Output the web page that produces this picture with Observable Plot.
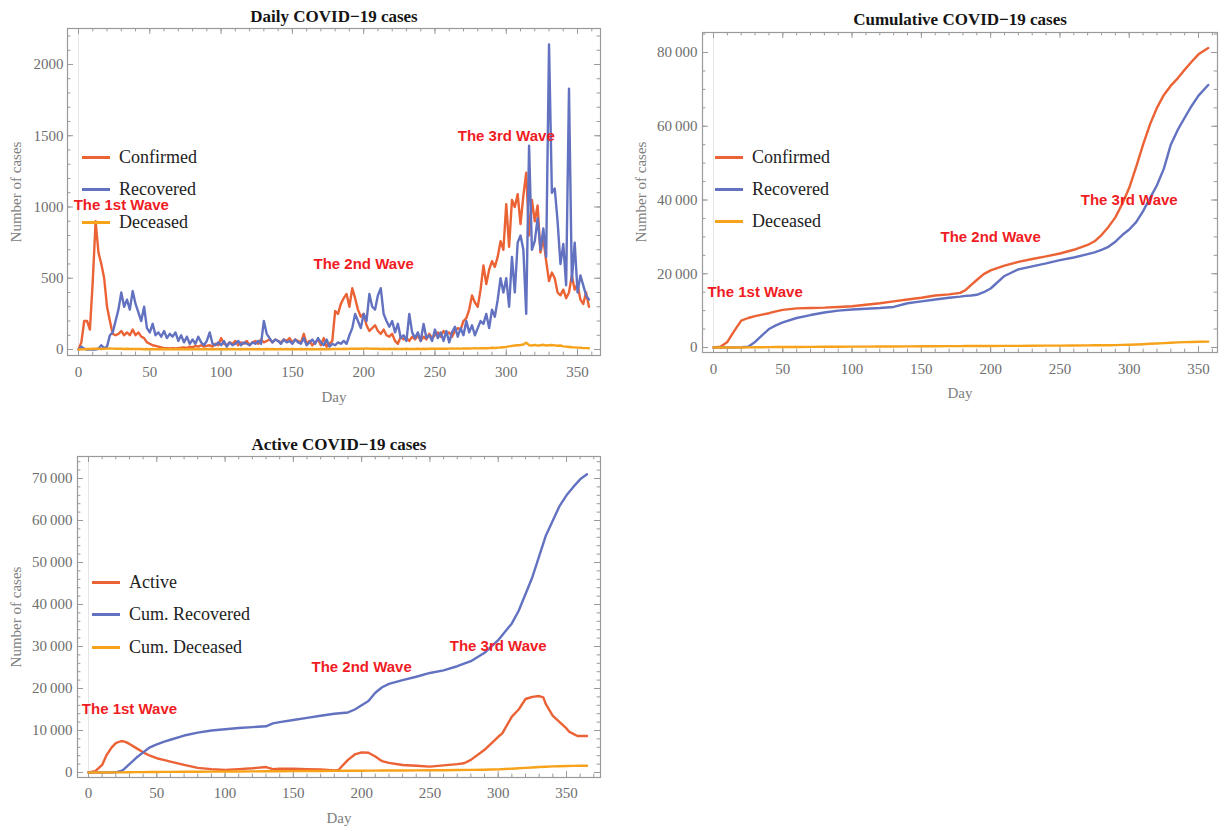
<!DOCTYPE html>
<html><head><meta charset="utf-8">
<script src="https://cdn.jsdelivr.net/npm/d3@7"></script>
<script src="https://cdn.jsdelivr.net/npm/@observablehq/plot@0.6"></script>
<style>
body{margin:0;background:#fff;}
#root{position:relative;width:1227px;height:828px;overflow:hidden;font-family:"Liberation Serif","Times New Roman",serif;}
.panel{position:absolute;}
.title{position:absolute;font-weight:bold;font-size:17px;color:#151515;transform:translate(-50%,-50%);white-space:nowrap;}
.ylab{position:absolute;font-size:15px;color:#808080;transform:translate(-50%,-50%) rotate(-90deg);white-space:nowrap;}
.xlab{position:absolute;font-size:15px;color:#808080;transform:translate(-50%,-50%);white-space:nowrap;}
.leg{position:absolute;font-size:18px;line-height:18px;color:#222;white-space:nowrap;display:flex;align-items:center;transform:translateY(-50%);}
.leg .sw{display:inline-block;width:28px;height:3px;margin-right:9px;}
</style>
</head><body><div id="root"></div>
<script>
// ---------- DATA ----------
const colors = {confirmed: "#eb6235", recovered: "#6272c0", deceased: "#f7a21b"};

// Daily panel: one value every 2 days, days 0..358
const dailyDays = d3.range(0, 360, 2);
const dailyConfirmed = [
  0, 50, 200, 200, 140, 480, 900, 680, 600, 500,
  300, 200, 110, 100, 110, 130, 100, 120, 100, 140,
  100, 120, 90, 80, 50, 40, 30, 25, 20, 15,
  10, 10, 8, 10, 8, 10, 12, 15, 10, 20,
  15, 25, 20, 30, 20, 25, 30, 20, 40, 30,
  80, 40, 30, 50, 40, 60, 30, 50, 40, 60,
  30, 50, 60, 40, 70, 50, 60, 70, 50, 70,
  60, 50, 70, 60, 80, 50, 70, 60, 50, 110,
  40, 60, 30, 50, 70, 30, 80, 20, 40, 60,
  270, 250, 320, 360, 390, 300, 430, 360, 280, 230,
  250, 170, 130, 150, 170, 130, 110, 140, 100, 90,
  110, 60, 40, 90, 70, 80, 60, 90, 70, 100,
  60, 90, 70, 110, 80, 100, 120, 90, 130, 110,
  120, 90, 130, 150, 140, 200, 220, 280, 380, 330,
  300, 420, 590, 460, 560, 620, 580, 650, 760, 700,
  1020, 720, 1050, 1000, 1090, 880, 1080, 1240, 800, 1050,
  900, 1010, 680, 780, 620, 480, 540, 500, 400, 380,
  420, 360, 400, 520, 420, 460, 350, 320, 400, 300
];
const dailyRecovered = [
  0, 20, 5, 0, 0, 0, 0, 5, 30, 10,
  20, 100, 120, 200, 280, 400, 300, 350, 280, 410,
  320, 260, 200, 300, 150, 120, 180, 100, 120, 90,
  130, 80, 110, 90, 120, 60, 100, 50, 90, 40,
  70, 40, 90, 50, 30, 60, 120, 40, 30, 50,
  30, 60, 20, 50, 30, 40, 60, 30, 50, 40,
  30, 50, 40, 60, 40, 200, 110, 80, 50, 70,
  60, 40, 70, 50, 60, 40, 70, 50, 40, 80,
  30, 50, 70, 40, 80, 50, 30, 70, 20, 40,
  30, 50, 40, 60, 40, 100, 150, 250, 200, 150,
  250, 200, 390, 300, 280, 380, 430, 250, 200, 160,
  200, 120, 180, 80, 100, 60, 250, 120, 80, 120,
  60, 180, 80, 100, 60, 140, 80, 120, 60, 130,
  50, 120, 160, 90, 150, 100, 200, 120, 170, 100,
  150, 200, 180, 250, 150, 280, 230, 350, 500, 400,
  500, 300, 650, 400, 750, 800, 700, 250, 1430, 700,
  760, 920, 700, 850, 650, 2140, 1100, 1130, 900, 600,
  740, 450, 1830, 480, 750, 400, 520, 450, 380, 350
];
const dailyDeceased = [
  0, 1, 2, 3, 4, 5, 6, 5, 4, 5,
  6, 7, 6, 5, 6, 5, 4, 5, 4, 3,
  4, 3, 3, 2, 3, 2, 3, 2, 2, 3,
  2, 3, 2, 2, 3, 2, 3, 2, 2, 3,
  2, 3, 2, 2, 3, 2, 3, 2, 2, 3,
  2, 2, 3, 2, 3, 2, 2, 3, 2, 3,
  2, 3, 2, 3, 2, 2, 3, 2, 3, 2,
  2, 3, 2, 3, 2, 3, 2, 2, 3, 2,
  3, 2, 3, 2, 2, 3, 2, 3, 2, 3,
  3, 4, 3, 5, 4, 5, 6, 5, 6, 5,
  6, 7, 6, 5, 6, 5, 4, 5, 4, 5,
  4, 5, 4, 3, 4, 5, 4, 3, 4, 5,
  4, 5, 4, 5, 6, 5, 6, 5, 6, 5,
  6, 7, 6, 7, 6, 7, 8, 7, 8, 9,
  8, 9, 10, 9, 10, 12, 11, 13, 14, 16,
  18, 22, 25, 28, 30, 32, 35, 48, 30, 28,
  32, 27, 30, 33, 28, 30, 32, 29, 26, 28,
  22, 20, 18, 16, 15, 13, 12, 10, 10, 9
];

// Cumulative panel
const cumDays = [0,5,10,15,20,25,30,35,40,45,50,60,70,80,90,100,110,120,130,140,150,160,170,178,182,186,190,195,200,210,220,230,240,250,260,270,275,280,285,290,295,300,305,310,315,320,325,330,335,340,345,350,357];
const cumConfirmed = [0,200,1500,4500,7300,8000,8500,8900,9300,9800,10200,10600,10700,10800,11000,11200,11600,12000,12500,13000,13500,14100,14400,14800,15600,17000,18300,19900,20900,22200,23200,24000,24700,25500,26500,27800,28800,30500,32700,35300,39000,43300,49000,55000,60500,65000,68500,71000,73000,75300,77500,79500,81200];
const cumRecovered = [0,0,0,0,50,200,1500,3300,5000,6000,6800,8000,8800,9500,10000,10300,10500,10700,11000,12000,12500,13000,13500,13800,14000,14100,14300,15000,16000,19400,21200,22000,22800,23700,24400,25300,25800,26500,27300,28700,30500,32000,34000,37000,40500,44000,48500,55000,59000,62300,65500,68300,71200];
const cumDeceased = [0,0,5,10,20,40,60,80,100,120,130,150,170,190,210,230,250,270,290,310,330,350,370,385,390,395,400,410,420,430,450,470,495,520,550,580,600,615,630,650,700,750,820,900,1000,1100,1200,1300,1380,1450,1500,1540,1580];

// Active panel
const activeDays = [0,5,10,13,17,20,24,27,30,35,40,45,50,55,60,70,80,90,100,110,120,130,135,140,150,160,170,180,183,190,195,200,205,210,215,220,230,240,250,260,270,275,280,290,300,303,310,315,320,323,325,330,333,335,340,345,350,352,355,358,365];
const activeCases = [0,300,1800,4000,6000,7000,7500,7300,6800,5800,4800,4000,3400,3000,2600,1800,1100,800,600,800,1000,1300,800,900,900,800,700,500,600,3000,4300,4800,4700,3800,2700,2300,1800,1600,1400,1700,2000,2200,3000,5400,8500,9300,13300,15000,17500,17800,18000,18200,17900,16200,13500,12000,10500,9700,9200,8700,8700];
const cum3Days = [0,10,20,25,30,35,40,45,50,55,60,70,80,90,100,110,120,130,135,140,150,160,170,180,190,195,200,205,210,215,220,230,240,250,260,270,280,290,295,300,305,310,315,320,325,330,335,340,345,350,355,360,365];
const cum3Recovered = [0,0,50,500,2000,3500,4800,6000,6700,7300,7800,8800,9500,10000,10300,10600,10800,11000,11700,12000,12500,13000,13500,14000,14300,15000,16000,17000,19000,20300,21100,22000,22800,23700,24300,25300,26500,28500,30000,31500,33500,35500,38500,42500,46500,51500,56500,60000,63500,66000,68000,69800,71000];
const cum3Deceased = [0,5,20,40,60,80,100,120,130,140,150,170,190,210,230,250,270,290,300,310,330,350,370,390,410,420,430,440,450,460,470,490,510,530,550,580,615,650,700,750,820,900,1000,1100,1200,1300,1380,1450,1500,1540,1570,1590,1600];

// Tick values
const xMajor = [0, 50, 100, 150, 200, 250, 300, 350];
const yMajorDaily = [0, 500, 1000, 1500, 2000];
const yMajorCum = [0, 20000, 40000, 60000, 80000];
const yMajorActive = [0, 10000, 20000, 30000, 40000, 50000, 60000, 70000];

// Annotations (anchored in data coordinates)
const waveLabels = ["The 1st Wave", "The 2nd Wave", "The 3rd Wave"];
const wavesDaily = [[30, 1012], [200, 600], [300, 1500]];
const wavesCum = [[30, 15000], [200, 30000], [300, 40000]];
const wavesActive = [[30, 15000], [200, 25000], [300, 30000]];

// ---------- DRAWING ----------
const fmtSpace = d => d3.format(",")(d).replace(/,/g, "\u2009");
const gray = "#9a9a9a";

function series(days, vals) { return days.map((d, i) => ({day: d, v: vals[i]})); }

function panel(cfg) {
  const {width, height, ml, mr, mt, mb, xDomain, yDomain, yMajor, xMinorStep, yMinorStep, lines, notes, yFmt, padX, padY} = cfg;
  const iw = width - ml - mr, ih = height - mt - mb;
  const inX = v => v >= xDomain[0] && v <= xDomain[1];
  const inY = v => v >= yDomain[0] && v <= yDomain[1];
  const xMinor = d3.range(0, xDomain[1] + 1, xMinorStep).filter(inX);
  const yMinor = d3.range(0, yDomain[1] + 1, yMinorStep).filter(inY);
  const maj = 6, min = 3.4;
  return Plot.plot({
    width, height, marginLeft: ml, marginRight: mr, marginTop: mt, marginBottom: mb,
    x: {domain: xDomain}, y: {domain: yDomain},
    style: "font-family:'Liberation Serif','Times New Roman',serif;font-size:15px;color:#6e6e6e;background:transparent;overflow:visible;",
    marks: [
      Plot.ruleX([0], {stroke: "#e6e6e6", strokeWidth: 1}),
      Plot.ruleX(xMinor, {insetTop: ih - min, stroke: gray}),
      Plot.ruleX(xMinor, {insetBottom: ih - min, stroke: gray}),
      Plot.ruleX(xMajor, {insetTop: ih - maj, stroke: gray}),
      Plot.ruleX(xMajor, {insetBottom: ih - maj, stroke: gray}),
      Plot.ruleY(yMinor, {insetRight: iw - min, stroke: gray}),
      Plot.ruleY(yMinor, {insetLeft: iw - min, stroke: gray}),
      Plot.ruleY(yMajor, {insetRight: iw - maj, stroke: gray}),
      Plot.ruleY(yMajor, {insetLeft: iw - maj, stroke: gray}),
      Plot.frame({stroke: gray, strokeWidth: 1.2}),
      ...lines.map(([data, c]) => Plot.line(data, {x: "day", y: "v", stroke: c, strokeWidth: 2.4, strokeLinejoin: "round"})),
      Plot.text(notes, {x: d => d[0], y: d => d[1], text: (d, i) => waveLabels[i], fill: "#f01c24", fontWeight: "bold", fontFamily: "'Liberation Sans', Arial, sans-serif", fontSize: 15}),
      Plot.axisX(xMajor, {tickSize: 0, tickPadding: padX, label: null}),
      Plot.axisY(yMajor, {tickSize: 0, tickPadding: padY, label: null, tickFormat: yFmt})
    ]
  });
}

const root = document.getElementById("root");
function place(node, left, top) {
  const div = document.createElement("div");
  div.className = "panel";
  div.style.left = left + "px"; div.style.top = top + "px";
  div.appendChild(node);
  root.appendChild(div);
}
function html(cls, text, x, y) {
  const el = document.createElement("div");
  el.className = cls; el.textContent = text;
  el.style.left = x + "px"; el.style.top = y + "px";
  root.appendChild(el);
}
function legend(items, x, ys) {
  items.forEach(([label, c], i) => {
    const el = document.createElement("div");
    el.className = "leg";
    el.style.left = x + "px"; el.style.top = ys[i] + "px";
    const sw = document.createElement("span");
    sw.className = "sw"; sw.style.background = c;
    el.appendChild(sw);
    el.appendChild(document.createTextNode(label));
    root.appendChild(el);
  });
}

// Panel 1: Daily
place(panel({
  width: 610, height: 410, ml: 67, mr: 10, mt: 28, mb: 55,
  xDomain: [-7.72, 366.1], yDomain: [-42.1, 2252.6],
  yMajor: yMajorDaily, xMinorStep: 10, yMinorStep: 100,
  lines: [[series(dailyDays, dailyConfirmed), colors.confirmed], [series(dailyDays, dailyRecovered), colors.recovered], [series(dailyDays, dailyDeceased), colors.deceased]],
  notes: wavesDaily, yFmt: d => String(d), padX: 11, padY: 4
}), 0, 0);

// Panel 2: Cumulative
place(panel({
  width: 617, height: 410, ml: 92, mr: 10, mt: 32, mb: 58,
  xDomain: [-7.94, 363.7], yDomain: [-1356, 85424],
  yMajor: yMajorCum, xMinorStep: 10, yMinorStep: 5000,
  lines: [[series(cumDays, cumConfirmed), colors.confirmed], [series(cumDays, cumRecovered), colors.recovered], [series(cumDays, cumDeceased), colors.deceased]],
  notes: wavesCum, yFmt: fmtSpace, padX: 11, padY: 5
}), 610, 0);

// Panel 3: Active
place(panel({
  width: 610, height: 408, ml: 77, mr: 10, mt: 36, mb: 51,
  xDomain: [-8.05, 374.9], yDomain: [-1190, 75238],
  yMajor: yMajorActive, xMinorStep: 10, yMinorStep: 2000,
  lines: [[series(activeDays, activeCases), colors.confirmed], [series(cum3Days, cum3Recovered), colors.recovered], [series(cum3Days, cum3Deceased), colors.deceased]],
  notes: wavesActive, yFmt: fmtSpace, padX: 10, padY: 5
}), 0, 420);

// Titles and axis labels
html("title", "Daily COVID\u221219 cases", 334, 17);
html("title", "Cumulative COVID\u221219 cases", 960, 20);
html("title", "Active COVID\u221219 cases", 339, 445);
html("ylab", "Number of cases", 16, 192);
html("ylab", "Number of cases", 641, 192);
html("ylab", "Number of cases", 16, 617);
html("xlab", "Day", 334, 397);
html("xlab", "Day", 960, 393);
html("xlab", "Day", 339, 818);

// Legends
legend([["Confirmed", colors.confirmed], ["Recovered", colors.recovered], ["Deceased", colors.deceased]], 82, [157, 189, 222]);
legend([["Confirmed", colors.confirmed], ["Recovered", colors.recovered], ["Deceased", colors.deceased]], 715, [157, 189, 221]);
legend([["Active", colors.confirmed], ["Cum. Recovered", colors.recovered], ["Cum. Deceased", colors.deceased]], 92, [582, 614, 647]);
</script>
</body></html>
